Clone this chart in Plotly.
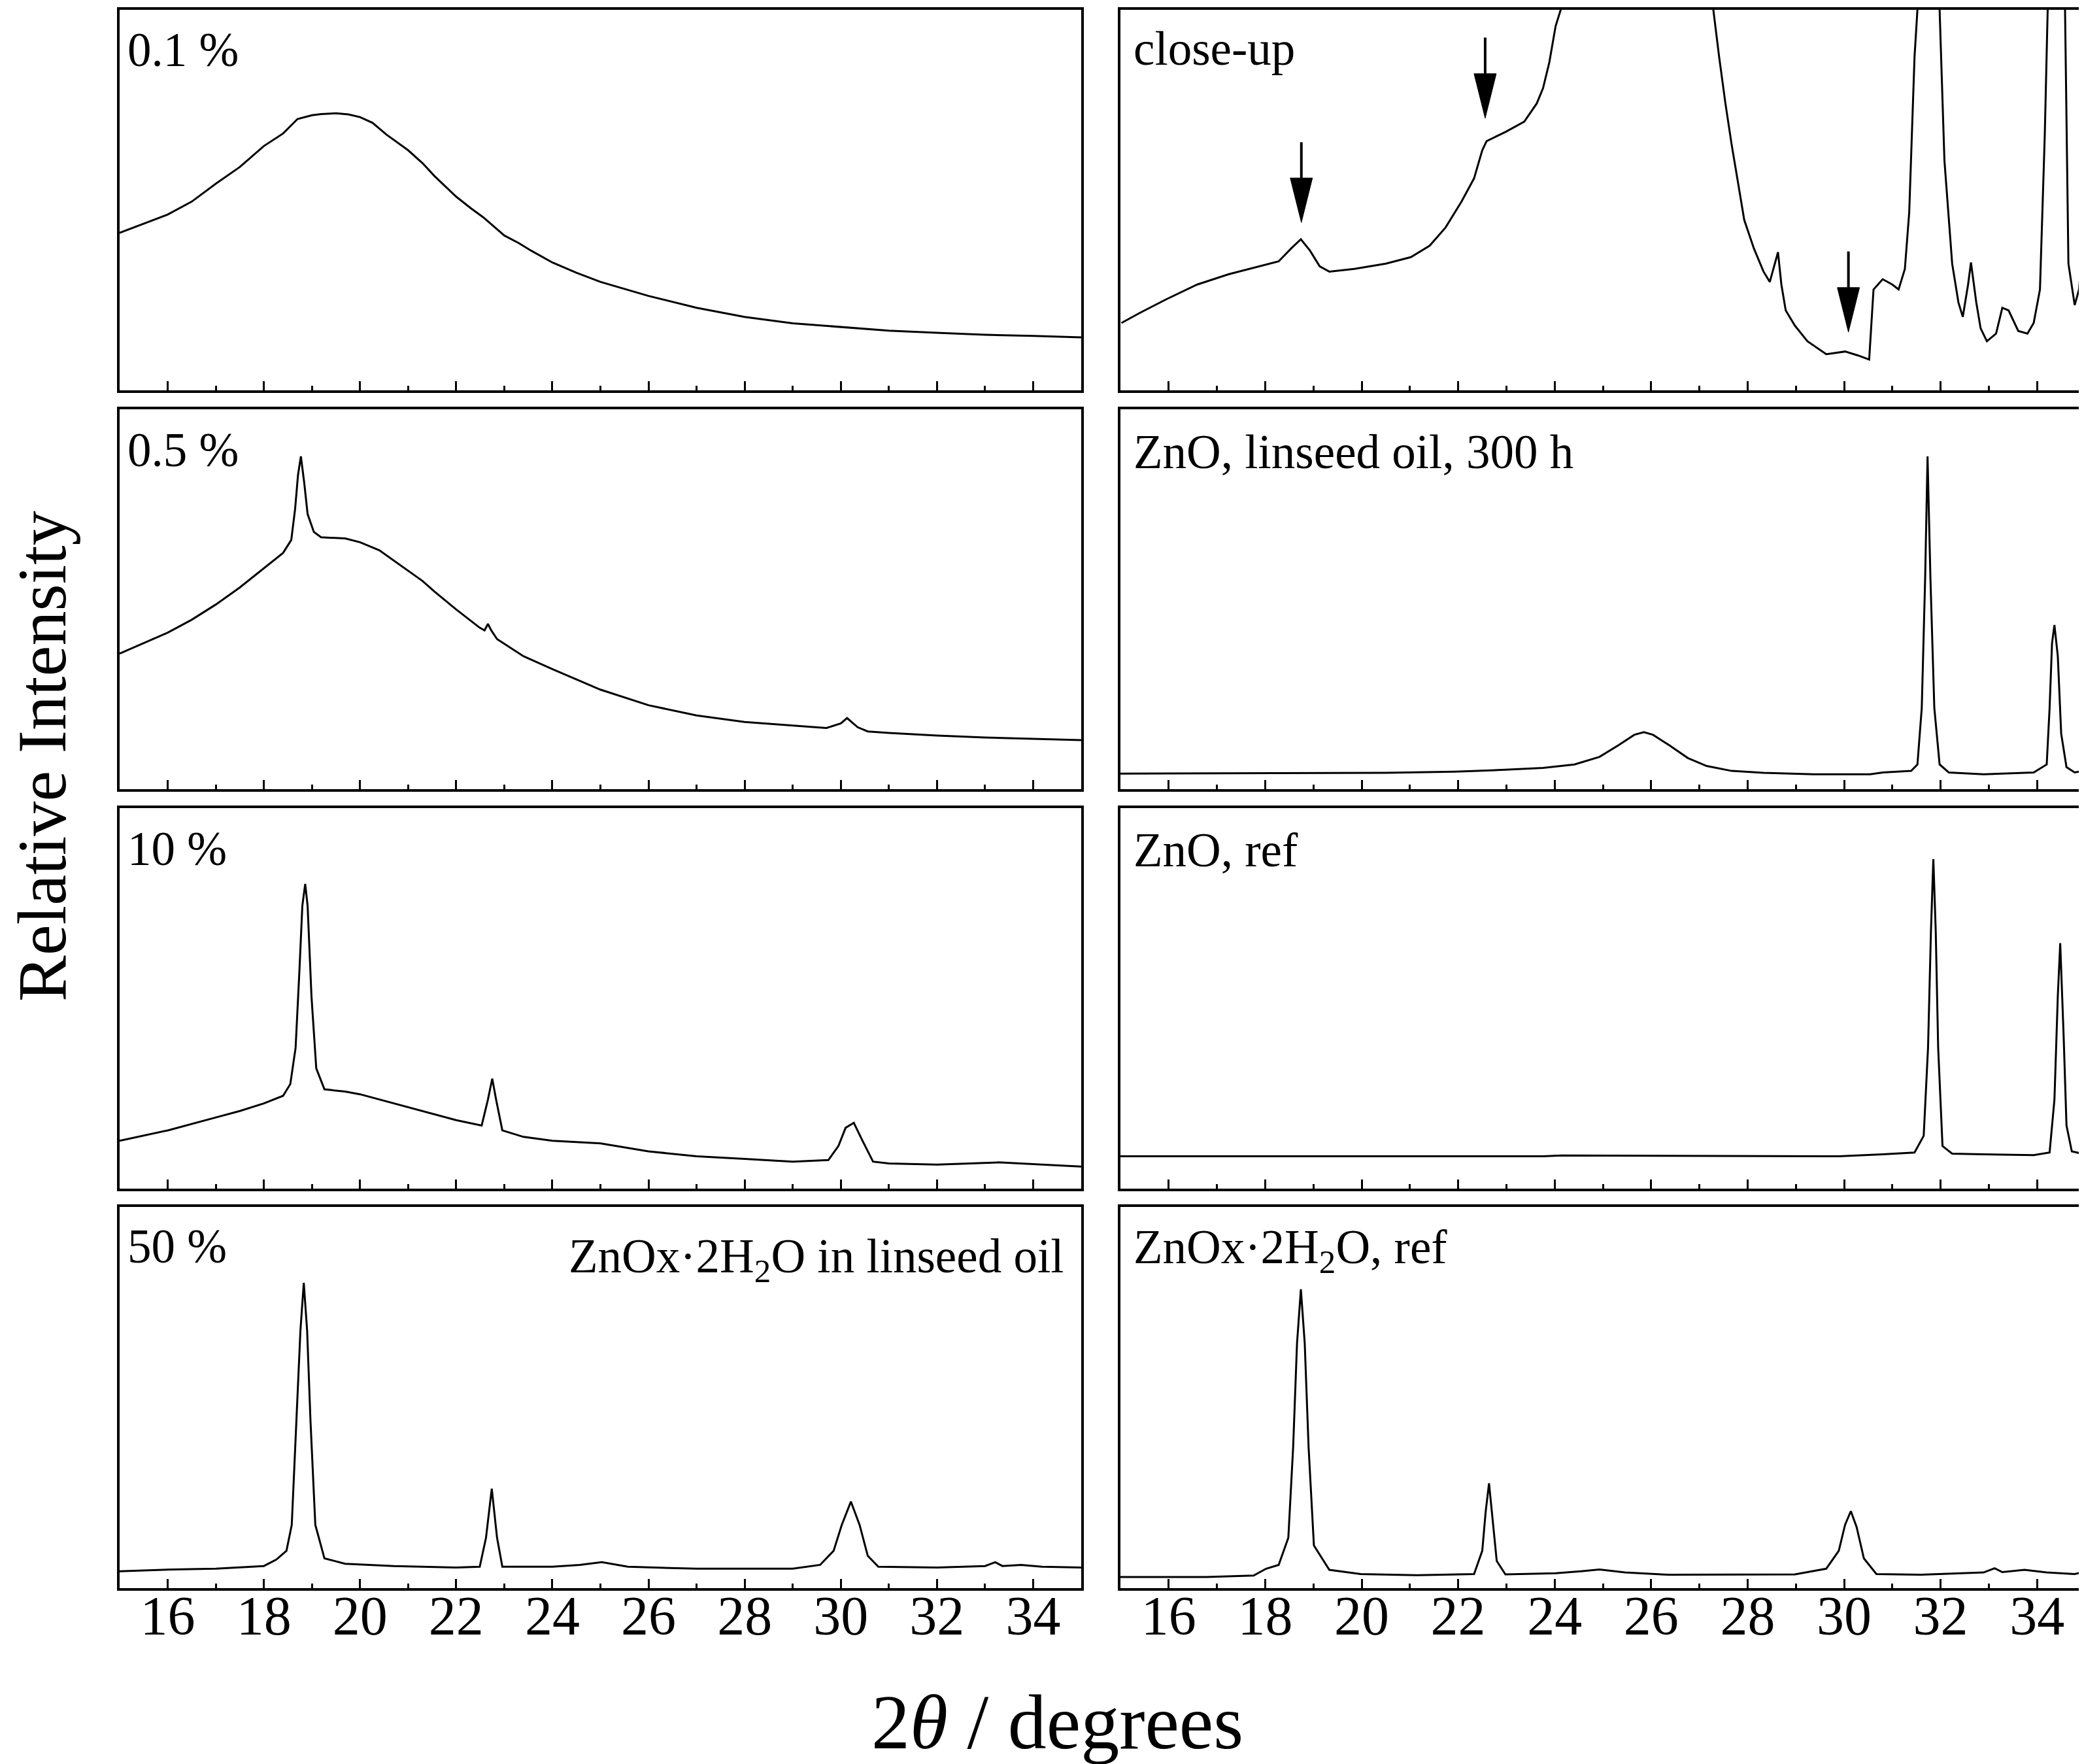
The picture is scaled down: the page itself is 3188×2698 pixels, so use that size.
import plotly.graph_objects as go

FONT = "Liberation Serif, Times New Roman, serif"

# ---------------- data: 2theta (deg) and intensity (% of panel height) ----------------
# left column: ZnOx·2H2O in linseed oil
x_01 = [15.0, 16.0, 16.5, 17.0, 17.5, 18.0, 18.4, 18.7, 19.0, 19.19, 19.5, 19.76, 20.0, 20.26,
        20.55, 21.0, 21.3, 21.55, 22.0, 22.3, 22.56, 23.0, 23.3, 23.56, 24.0, 24.5, 25.0, 26.0,
        27.0, 28.0, 29.0, 30.0, 31.0, 32.0, 33.0, 34.0, 35.0]
y_01 = [41.4, 46.2, 49.6, 54.3, 58.7, 64.2, 67.5, 71.3, 72.3, 72.6, 72.8, 72.5, 71.8, 70.3,
        67.2, 63.1, 59.7, 56.3, 50.9, 47.9, 45.5, 40.7, 38.7, 36.7, 33.6, 30.9, 28.5, 24.8,
        21.7, 19.3, 17.6, 16.6, 15.7, 15.1, 14.6, 14.3, 13.9]

x_05 = [15.0, 16.0, 16.5, 17.0, 17.5, 18.0, 18.4, 18.57, 18.65, 18.71, 18.77, 18.84, 18.91,
        19.04, 19.19, 19.69, 20.0, 20.4, 20.7, 21.0, 21.3, 21.55, 22.0, 22.49, 22.59, 22.66,
        22.73, 22.85, 23.4, 24.0, 24.5, 25.0, 26.0, 27.0, 28.0, 29.0, 29.7, 30.0, 30.13, 30.35,
        30.56, 31.0, 32.0, 33.0, 35.0]
y_05 = [35.7, 41.2, 44.6, 48.6, 53.1, 58.2, 62.2, 65.6, 73.8, 82.7, 87.6, 80.6, 72.4,
        67.7, 66.3, 66.0, 65.0, 62.9, 60.2, 57.5, 54.8, 52.0, 47.3, 42.5, 41.8, 43.5,
        41.8, 39.5, 35.0, 31.6, 28.9, 26.2, 22.1, 19.4, 17.7, 16.7, 16.1, 17.3, 18.7, 16.3,
        15.2, 14.8, 14.1, 13.6, 12.9]

x_10 = [15.0, 16.0, 17.0, 17.5, 18.0, 18.4, 18.55, 18.66, 18.74, 18.8, 18.86, 18.91, 18.99,
        19.09, 19.26, 19.69, 20.0, 20.7, 21.27, 22.0, 22.53, 22.66, 22.75, 22.83, 22.96, 23.4,
        24.0, 25.0, 26.0, 27.0, 28.0, 29.0, 29.74, 29.95, 30.1, 30.27, 30.45, 30.67, 31.0,
        32.0, 33.28, 33.75, 35.0]
y_10 = [12.6, 15.3, 18.7, 20.4, 22.4, 24.4, 27.5, 37.0, 57.4, 74.3, 80.1, 74.3, 50.6,
        31.6, 26.1, 25.5, 24.8, 22.4, 20.4, 18.0, 16.6, 23.4, 28.9, 23.4, 15.3, 13.6,
        12.6, 11.9, 9.8, 8.5, 7.8, 7.1, 7.5, 11.2, 16.0, 17.3, 12.6, 7.1, 6.6,
        6.3, 6.9, 6.6, 5.8]

x_50 = [15.0, 16.1, 17.0, 18.0, 18.26, 18.47, 18.58, 18.68, 18.76, 18.83, 18.9, 18.97, 19.07,
        19.26, 19.69, 20.7, 22.0, 22.49, 22.62, 22.74, 22.85, 22.96, 24.0, 24.57, 25.03, 25.57,
        27.0, 29.0, 29.57, 29.85, 30.02, 30.21, 30.39, 30.56, 30.78, 32.0, 33.0, 33.21, 33.36,
        33.75, 34.18, 35.0]
y_50 = [4.4, 4.9, 5.1, 5.8, 7.5, 9.8, 16.6, 43.8, 67.5, 80.1, 67.5, 43.8, 16.6,
        7.8, 6.4, 5.8, 5.4, 5.6, 13.2, 26.1, 13.2, 5.6, 5.6, 6.1, 6.8, 5.6,
        5.1, 5.1, 6.1, 9.8, 16.6, 22.7, 16.6, 8.5, 5.6, 5.4, 5.8, 6.8, 5.8,
        6.1, 5.6, 5.4]

# right column
x_close = [15.02, 15.41, 15.93, 16.59, 17.24, 17.89, 18.28, 18.54, 18.74, 18.93, 19.13, 19.33,
           19.85, 20.5, 21.02, 21.41, 21.74, 22.07, 22.33, 22.5, 22.59, 22.98, 23.37, 23.63,
           23.76, 23.89, 24.02, 24.15, 25.85, 27.28, 27.41, 27.54, 27.67, 27.8, 27.93, 28.13,
           28.33, 28.46, 28.56, 28.63, 28.7, 28.79, 28.98, 29.24, 29.63, 30.02, 30.28, 30.52,
           30.61, 30.8, 31.0, 31.13, 31.26, 31.35, 31.46, 31.52, 31.73, 31.98, 32.08, 32.24,
           32.37, 32.46, 32.57, 32.63, 32.74, 32.83, 32.96, 33.15, 33.28, 33.41, 33.61, 33.8,
           33.93, 34.06, 34.16, 34.22, 34.36, 34.58, 34.65, 34.78, 34.87, 34.95, 35.0]
y_close = [17.7, 20.4, 23.8, 27.8, 30.5, 32.6, 33.9, 37.3, 39.7, 36.7, 32.6, 31.2,
           31.9, 33.3, 35.0, 38.0, 42.8, 49.6, 55.7, 63.1, 65.5, 67.9, 70.6, 75.4,
           79.4, 86.2, 95.7, 101.0, 460.0, 101.0, 87.6, 75.4, 64.5, 54.7, 44.8, 37.3,
           31.2, 28.5, 33.3, 36.3, 27.8, 21.0, 17.0, 12.9, 9.5, 10.2, 9.2, 8.1,
           26.5, 29.2, 27.8, 26.5, 31.9, 46.8, 87.6, 100.0, 3400.0, 100.0, 60.4, 33.3,
           23.1, 19.3, 27.8, 33.6, 23.1, 16.3, 12.9, 14.9, 21.7, 21.0, 15.6, 14.9,
           17.7, 26.5, 67.2, 100.0, 1600.0, 100.0, 33.3, 22.4, 26.5, 40.0, 43.4]

x_zno_oil = [15.0, 18.54, 20.5, 21.93, 22.98, 23.76, 24.41, 24.93, 25.33, 25.65, 25.85, 26.04,
             26.37, 26.76, 27.15, 27.67, 28.33, 29.37, 30.54, 30.8, 31.39, 31.52, 31.61, 31.68,
             31.73, 31.79, 31.87, 31.98, 32.17, 32.89, 33.93, 34.2, 34.26, 34.31, 34.36, 34.43,
             34.5, 34.61, 34.78, 35.0]
y_zno_oil = [4.1, 4.3, 4.3, 4.6, 5.1, 5.6, 6.5, 8.5, 11.6, 14.3, 15.0, 14.3,
             11.6, 8.2, 6.1, 4.8, 4.3, 3.9, 3.9, 4.4, 4.8, 6.5, 21.4, 55.4,
             87.6, 55.4, 21.4, 6.5, 4.4, 3.9, 4.4, 6.5, 21.4, 38.4, 43.2, 35.0,
             14.6, 5.8, 4.4, 4.9]

x_zno_ref = [15.0, 23.76, 24.15, 27.67, 29.89, 30.8, 31.46, 31.65, 31.74, 31.8, 31.85, 31.9,
             31.95, 32.04, 32.24, 32.89, 33.93, 34.26, 34.36, 34.43, 34.48, 34.55, 34.61, 34.72,
             35.0]
y_zno_ref = [8.5, 8.5, 8.7, 8.5, 8.5, 9.0, 9.5, 13.9, 37.0, 67.5, 86.6, 67.5,
             37.0, 11.2, 9.2, 9.0, 8.8, 9.5, 23.4, 50.6, 64.5, 40.4, 16.6, 9.8,
             9.0]

x_znox_ref = [15.0, 16.78, 17.76, 18.02, 18.28, 18.48, 18.58, 18.66, 18.74, 18.82, 18.9, 19.01,
              19.33, 19.98, 21.15, 22.33, 22.5, 22.57, 22.64, 22.7, 22.8, 22.98, 24.02, 24.54,
              24.93, 25.46, 26.37, 28.98, 29.63, 29.89, 30.02, 30.14, 30.26, 30.41, 30.67, 31.59,
              32.89, 33.12, 33.28, 33.74, 34.2, 34.78, 35.0]
y_znox_ref = [2.9, 2.9, 3.3, 5.1, 6.1, 13.2, 37.0, 64.2, 78.4, 64.2, 37.0, 11.2,
              4.8, 3.7, 3.4, 3.7, 9.8, 20.0, 27.5, 20.0, 7.1, 3.6, 3.9, 4.4,
              4.9, 4.1, 3.5, 3.6, 5.1, 9.8, 16.6, 20.2, 16.0, 7.8, 3.7, 3.5,
              4.1, 5.2, 4.2, 4.8, 4.1, 3.7, 4.3]

left_labels = ["0.1 %", "0.5 %", "10 %", "50 %"]
right_labels = ["close-up", "ZnO, linseed oil, 300 h", "ZnO, ref", "ZnOx·2H<sub>2</sub>O, ref"]
series_note = "ZnOx·2H<sub>2</sub>O in linseed oil"
x_tick_vals = [16, 18, 20, 22, 24, 26, 28, 30, 32, 34]

# arrows in the close-up panel (2theta, tail %, tip %)
arrow_x = [18.75, 22.56, 30.09]
arrow_tail = [65.2, 92.7, 36.5]
arrow_tip = [44.1, 71.5, 15.3]

# ---------------- figure ----------------
W, H = 3188, 2698
xdom = {"L": [175 / W, 1646 / W], "R": [1706 / W, 3182 / W]}
row_px = [(7, 589), (618, 1199), (1228, 1810), (1838, 2421)]
ydoms = [[1 - b / H, 1 - t / H] for t, b in row_px]

series = [(x_01, y_01), (x_05, y_05), (x_10, y_10), (x_50, y_50),
          (x_close, y_close), (x_zno_oil, y_zno_oil), (x_zno_ref, y_zno_ref),
          (x_znox_ref, y_znox_ref)]

fig = go.Figure()
layout = dict(width=W, height=H, margin=dict(l=0, r=0, t=0, b=0),
              paper_bgcolor="white", plot_bgcolor="white", showlegend=False,
              font=dict(family=FONT, color="black"))

for i, (xs, ys) in enumerate(series):
    n = i + 1
    col = "L" if i < 4 else "R"
    row = i % 4
    sfx = "" if n == 1 else str(n)
    fig.add_trace(go.Scatter(x=xs, y=ys, mode="lines",
                             line=dict(color="black", width=3),
                             xaxis="x" + sfx, yaxis="y" + sfx, hoverinfo="skip"))
    layout["xaxis" + sfx] = dict(
        domain=xdom[col], range=[15, 35], anchor="y" + sfx,
        showline=True, mirror=True, linecolor="black", linewidth=3.5,
        ticks="inside", ticklen=14, tickwidth=2.5, tickcolor="black",
        tickvals=x_tick_vals, showticklabels=(row == 3), ticklabelstandoff=-34,
        tickfont=dict(family=FONT, size=84, color="black"),
        minor=dict(dtick=1, tick0=15, ticks="inside", ticklen=7, tickwidth=2.5,
                   tickcolor="black"),
        showgrid=False, zeroline=False, fixedrange=True)
    layout["yaxis" + sfx] = dict(
        domain=ydoms[row], range=[0, 100], anchor="x" + sfx,
        showline=True, mirror=True, linecolor="black", linewidth=3.5,
        ticks="", showticklabels=False, showgrid=False, zeroline=False,
        fixedrange=True)

annotations = []
LFS = 73
left_base = [86, 87, 87, 85]
right_base = [84, 90, 89, 86]
for r in range(4):
    n = r + 1
    sfx = "" if n == 1 else str(n)
    pw, ph = 1471, row_px[r][1] - row_px[r][0]
    annotations.append(dict(
        text=left_labels[r], xref=f"x{sfx} domain", yref=f"y{sfx} domain",
        x=10 / pw, y=1 - (left_base[r] - 0.9 * LFS - 1) / ph,
        xanchor="left", yanchor="top", showarrow=False,
        font=dict(family=FONT, size=LFS, color="black")))
    n2 = r + 5
    annotations.append(dict(
        text=right_labels[r], xref=f"x{n2} domain", yref=f"y{n2} domain",
        x=18 / 1476, y=1 - (right_base[r] - 0.9 * LFS - 1) / ph,
        xanchor="left", yanchor="top", showarrow=False,
        font=dict(family=FONT, size=LFS, color="black")))

annotations.append(dict(
    text=series_note, xref="x4 domain", yref="y4 domain",
    x=1 - 25 / 1471, y=1 - (100 - 0.9 * LFS - 1) / 583,
    xanchor="right", yanchor="top", showarrow=False,
    font=dict(family=FONT, size=LFS, color="black")))

annotations.append(dict(
    text="2<i>θ</i> / degrees", xref="paper", yref="paper",
    x=1609 / W, y=0.0015, xanchor="center", yanchor="bottom", showarrow=False,
    font=dict(family=FONT, size=118, color="black")))
annotations.append(dict(
    text="Relative Intensity", xref="paper", yref="paper", textangle=-90,
    x=56 / W, y=1 - 1149 / H, xanchor="center", yanchor="middle", showarrow=False,
    font=dict(family=FONT, size=106, color="black")))

shapes = []
head_len = 11.7
head_hw = 0.23
for ax, tail, tip in zip(arrow_x, arrow_tail, arrow_tip):
    shapes.append(dict(type="line", xref="x5", yref="y5", x0=ax, x1=ax,
                       y0=tail, y1=tip + head_len, line=dict(color="black", width=4)))
    shapes.append(dict(type="path", xref="x5", yref="y5",
                       path=f"M {ax - head_hw},{tip + head_len} L {ax + head_hw},{tip + head_len} L {ax},{tip} Z",
                       fillcolor="black", line=dict(color="black", width=1)))

layout["annotations"] = annotations
layout["shapes"] = shapes
fig.update_layout(**layout)
fig.write_html("out.html")
